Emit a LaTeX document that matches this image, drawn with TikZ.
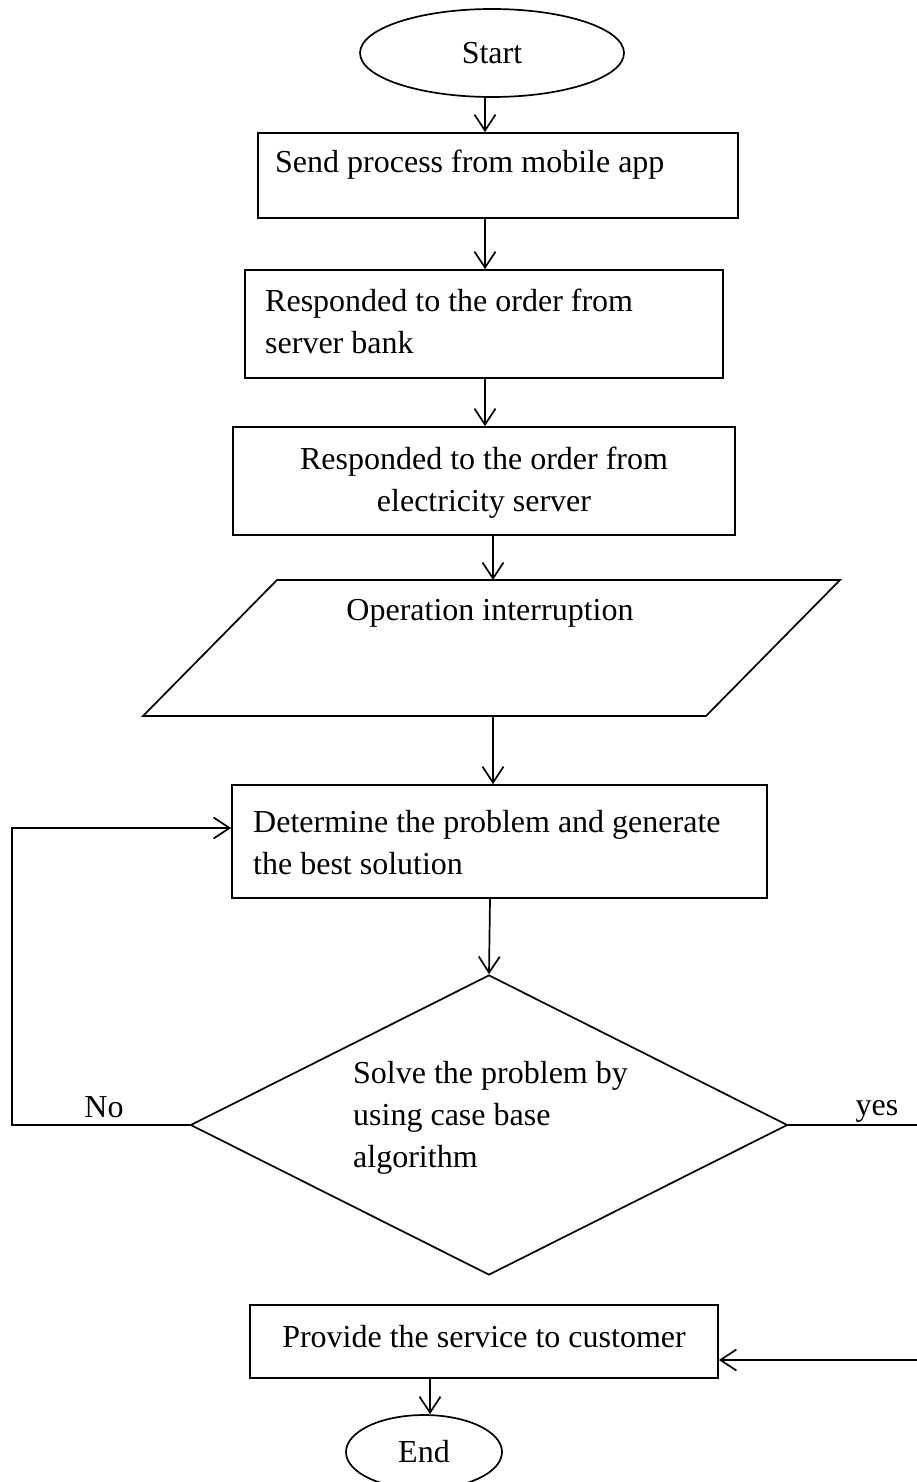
\documentclass[tikz,border=0pt]{standalone}
\usepackage{fontspec}
\setmainfont{Liberation Serif}
\usetikzlibrary{shapes.geometric,arrows.meta,calc}

\tikzset{
  flowbox/.style={draw, rectangle, line width=1.7pt, inner sep=0pt},
  terminal/.style={draw, ellipse, line width=1.7pt, inner sep=0pt},
  decision/.style={draw, diamond, line width=1.7pt, inner sep=0pt},
  label/.style={inner sep=0pt, font=\fontsize{32}{42}\selectfont},
  arr/.style={line width=1.7pt, -{Straight Barb[length=16pt,width=21pt,line width=1.7pt]}},
  plain/.style={line width=1.7pt}
}

\begin{document}
\begin{tikzpicture}[x=1pt, y=-1pt]
\useasboundingbox (0,0) rectangle (916,1482);

% terminals
\node[terminal, minimum width=264, minimum height=88, font=\fontsize{32}{42}\selectfont] (start) at (492,53) {Start};
\node[terminal, minimum width=156, minimum height=74, font=\fontsize{32}{42}\selectfont] (finish) at (424,1452) {End};

% process boxes
\node[flowbox, minimum width=480, minimum height=85]  (b1) at (498,175.5) {};
\node[flowbox, minimum width=478, minimum height=108] (b2) at (484,324) {};
\node[flowbox, minimum width=502, minimum height=108] (b3) at (484,481) {};
\node[flowbox, minimum width=535, minimum height=113] (b4) at (499.5,841.5) {};
\node[flowbox, minimum width=468, minimum height=73]  (b5) at (484,1341.5) {};

% input/output parallelogram
\coordinate (pBL) at (143,716);
\coordinate (pTL) at (277,580);
\coordinate (pTR) at (840,580);
\coordinate (pBR) at (706,716);
\draw[plain, line join=miter] (pBL) -- (pTL) -- (pTR) -- (pBR) -- cycle;
\coordinate (pTop) at (493,580);
\coordinate (pBot) at (493,716);

% decision
\node[decision, minimum width=597, minimum height=300] (dia) at (489,1125) {};

% texts
\node[label, anchor=west] (t1) at (275,165) {Send process from mobile app};
\node[label, anchor=west, align=left] (t2) at (265,321) {Responded to the order from\\server bank};
\node[label, align=center] (t3) at (484,483) {Responded to the order from\\electricity server};
\node[label] (tp) at (490,613) {Operation interruption};
\node[label, anchor=west, align=left] (t4) at (253,843) {Determine the problem and generate\\the best solution};
\node[label, anchor=west, align=left] (td) at (353,1118) {Solve the problem by\\using case base\\algorithm};
\node[label] (t5) at (484,1337) {Provide the service to customer};
\node[label, anchor=base] (lno) at (104,1117) {No};
\node[label, anchor=base] (lyes) at (877,1115) {yes};

% main flow
\draw[arr] ([xshift=-7pt]start.south) -- ([xshift=-7pt]start.south |- b1.north);
\draw[arr] ([xshift=-13pt]b1.south) -- ([xshift=-13pt]b1.south |- b2.north);
\draw[arr] ([xshift=1pt]b2.south) -- ([xshift=1pt]b2.south |- b3.north);
\draw[arr] ([xshift=9pt]b3.south) -- (pTop);
\draw[arr] (pBot) -- (pBot |- b4.north);
\draw[arr] ([xshift=-9.5pt]b4.south) -- (dia.north);
\draw[arr] ([xshift=-54pt]b5.south) -- ([xshift=-54pt]b5.south |- finish.north);

% "No" branch loops back to the determination step
\coordinate (noL) at (12,1125);
\draw[arr] (dia.west) -- (noL) |- ([yshift=13.5pt]b4.west);

% "yes" branch leads to the service box
\coordinate (yesR) at (921,1125);
\draw[arr] (dia.east) -- (yesR) |- ([yshift=-18.5pt]b5.east);
\end{tikzpicture}
\end{document}
